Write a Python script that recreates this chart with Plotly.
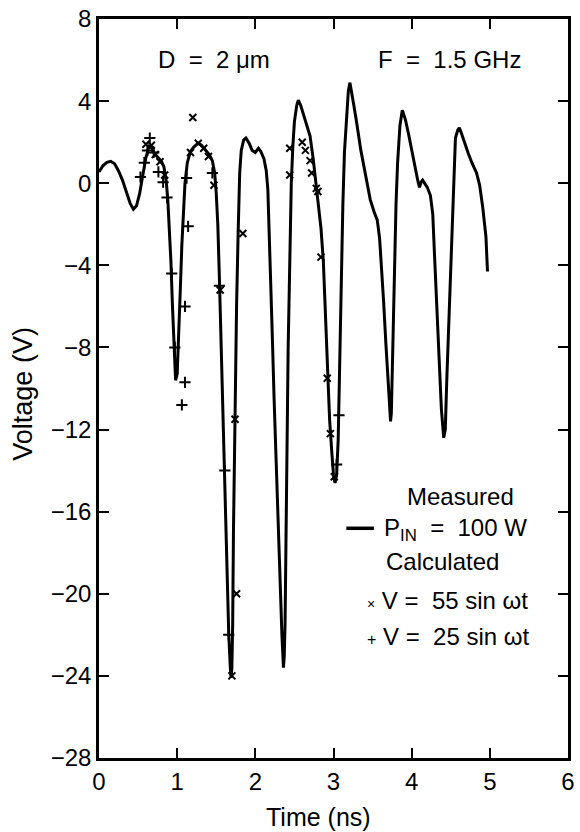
import plotly.graph_objects as go

# Measured waveform, P_IN = 100 W  (time in ns, voltage in V)
meas_t = [0.00, 0.05, 0.10, 0.15, 0.20, 0.25, 0.30, 0.35, 0.40, 0.44, 0.48, 0.52,
          0.56, 0.60, 0.64, 0.67, 0.71, 0.76, 0.80, 0.83, 0.86, 0.88,
          0.90, 0.92, 0.94, 0.96, 0.98, 1.00, 1.02, 1.04, 1.06, 1.08, 1.10,
          1.13, 1.17, 1.22, 1.27, 1.31, 1.36, 1.41, 1.45, 1.48, 1.50, 1.52,
          1.54, 1.56, 1.58, 1.60, 1.62, 1.64, 1.66, 1.68, 1.69, 1.70, 1.71,
          1.72, 1.73, 1.74, 1.76, 1.78, 1.80, 1.82, 1.85, 1.88, 1.92, 1.96,
          2.00, 2.04, 2.07, 2.11, 2.14, 2.16, 2.18, 2.20, 2.22, 2.24, 2.26,
          2.28, 2.30, 2.32, 2.34, 2.36, 2.37, 2.38, 2.39, 2.40, 2.42, 2.44,
          2.46, 2.48, 2.50, 2.53, 2.55, 2.58, 2.61, 2.65, 2.70, 2.74, 2.78,
          2.81, 2.84, 2.87, 2.89, 2.92, 2.95, 2.98, 3.00, 3.02, 3.04, 3.06,
          3.08, 3.10, 3.12, 3.14, 3.17, 3.19, 3.21, 3.23, 3.26, 3.29, 3.32,
          3.35, 3.39, 3.43, 3.47, 3.52, 3.56, 3.59, 3.61, 3.64, 3.67, 3.70,
          3.72, 3.73, 3.74, 3.76, 3.78, 3.80, 3.82, 3.85, 3.88, 3.92, 3.96,
          4.00, 4.04, 4.08, 4.10, 4.12, 4.14, 4.17, 4.20, 4.24, 4.27, 4.29,
          4.32, 4.35, 4.38, 4.41, 4.43, 4.45, 4.48, 4.51, 4.54, 4.56, 4.59,
          4.61, 4.64, 4.68, 4.72, 4.77, 4.83, 4.87, 4.91, 4.95, 4.97]
meas_v = [0.55, 0.85, 1.02, 1.07, 0.95, 0.60, 0.15, -0.45, -1.00, -1.27, -1.10, -0.50,
          0.40, 1.25, 1.80, 1.75, 1.45, 1.20, 1.05, 0.80, 0.10, -0.80,
          -2.2, -3.8, -6.0, -8.2, -9.6, -9.3, -7.6, -5.2, -3.0, -1.2, 0.0,
          1.00, 1.55, 1.80, 1.95, 1.85, 1.60, 1.40, 1.10, 0.50, -0.50, -2.0,
          -4.6, -7.5, -10.8, -13.5, -16.5, -19.5, -22.0, -23.6, -24.1, -23.6, -21.5,
          -17.0, -13.5, -10.5, -6.0, -2.4, 0.5, 1.6, 2.1, 2.2, 1.95, 1.6,
          1.5, 1.7, 1.55, 1.2, 0.6, -0.3, -2.5, -5.0, -7.8, -10.5, -13.0,
          -15.5, -17.8, -19.8, -22.0, -23.6, -23.0, -21.5, -18.0, -13.0, -8.0, -4.0,
          0.0, 1.8, 3.0, 3.8, 4.05, 3.8, 3.4, 2.9, 2.3, 1.2, -0.2,
          -1.2, -2.2, -3.8, -5.7, -9.0, -11.5, -13.2, -14.2, -14.6, -14.2, -12.5,
          -8.5, -4.5, -1.0, 1.5, 3.5, 4.5, 4.9, 4.5, 3.8, 3.1, 2.3,
          1.6, 0.8, 0.0, -0.8, -1.4, -1.8, -2.7, -3.8, -5.7, -7.8, -9.8,
          -11.2, -11.6, -11.2, -7.5, -4.0, -1.0, 1.0, 2.8, 3.56, 3.1, 2.4,
          1.6, 0.8, 0.1, -0.2, 0.05, 0.15, 0.0, -0.2, -0.6, -1.5, -3.3,
          -6.0, -8.8, -11.0, -12.4, -12.0, -9.5, -6.0, -2.9, 0.5, 2.2, 2.6,
          2.7, 2.4, 1.9, 1.5, 1.0, 0.5, -0.1, -1.2, -2.6, -4.3]

# Calculated, V = 55 sin wt
calc55_t = [0.60, 0.67, 0.72, 0.78, 0.84, 1.17, 1.20, 1.27, 1.34, 1.40, 1.47, 1.55,
            1.70, 1.74, 1.76, 1.84, 2.44, 2.44, 2.60, 2.64, 2.70, 2.72, 2.78, 2.80,
            2.84, 2.92, 2.96, 3.01]
calc55_v = [1.9, 1.85, 1.4, 1.05, 0.4, 1.5, 3.2, 1.95, 1.7, 1.3, -0.1, -5.2,
            -24.0, -11.5, -20.0, -2.45, 0.4, 1.7, 2.0, 1.6, 1.1, 0.5, -0.25, -0.4,
            -3.6, -9.5, -12.2, -14.3]

# Calculated, V = 25 sin wt
calc25_t = [0.53, 0.58, 0.62, 0.65, 0.70, 0.76, 0.82, 0.87, 0.93, 0.97, 1.06, 1.10,
            1.10, 1.14, 1.12, 1.45, 1.54, 1.61, 1.66, 3.04, 3.07]
calc25_v = [0.3, 1.0, 1.6, 2.2, 1.5, 0.55, 0.05, -0.7, -4.4, -8.0, -10.8, -9.7,
            -6.0, -2.1, 0.25, 0.5, -5.0, -14.0, -22.0, -13.7, -11.3]

x_ticks = [0, 1, 2, 3, 4, 5, 6]
y_ticks = [8, 4, 0, -4, -8, -12, -16, -20, -24, -28]

FONT = "Liberation Sans, Arial, Helvetica, sans-serif"
NB = "\u00a0"

fig = go.Figure()
fig.add_trace(go.Scatter(
    x=meas_t, y=meas_v, mode="lines",
    line=dict(color="black", width=3),
    showlegend=False, name="Measured",
))
fig.add_trace(go.Scatter(
    x=calc55_t, y=calc55_v, mode="markers",
    marker=dict(symbol="x-thin-open", size=7, color="black",
                line=dict(color="black", width=2)),
    showlegend=False, name="V = 55 sin ωt",
))
fig.add_trace(go.Scatter(
    x=calc25_t, y=calc25_v, mode="markers",
    marker=dict(symbol="cross-thin-open", size=8, color="black",
                line=dict(color="black", width=2)),
    showlegend=False, name="V = 25 sin ωt",
))

axis_common = dict(
    showline=True, linewidth=2.5, linecolor="black", mirror="ticks",
    ticks="inside", ticklen=10, tickwidth=2, tickcolor="black",
    showgrid=False, zeroline=False,
    tickfont=dict(family=FONT, size=24, color="black"),
)

fig.update_layout(
    width=580, height=832,
    margin=dict(l=99, r=5, t=18, b=74),
    paper_bgcolor="white", plot_bgcolor="white",
    font=dict(family=FONT, color="black"),
    xaxis=dict(range=[0, 6], tickvals=x_ticks, **axis_common),
    yaxis=dict(range=[-28, 8], tickvals=y_ticks, **axis_common),
)

txt = dict(family=FONT, size=24, color="black")
annotations = [
    # axis titles
    dict(text="Time (ns)", xref="paper", yref="paper", x=0.4685, y=-0.08,
         xanchor="center", yanchor="middle", showarrow=False,
         font=dict(family=FONT, size=25, color="black")),
    dict(text="Voltage (V)", xref="paper", yref="paper", x=-0.162, y=0.493,
         xanchor="center", yanchor="middle", textangle=-90, showarrow=False,
         font=dict(family=FONT, size=27, color="black")),
    # conditions
    dict(text=f"D{NB}{NB}={NB}{NB}2{NB}μm", x=1.475, y=6.05, xref="x", yref="y",
         xanchor="center", yanchor="middle", showarrow=False, font=txt),
    dict(text=f"F{NB}{NB}={NB}{NB}1.5{NB}GHz", x=4.48, y=6.05, xref="x", yref="y",
         xanchor="center", yanchor="middle", showarrow=False, font=txt),
    # key
    dict(text="Measured", x=4.626, y=-15.25, xref="x", yref="y",
         xanchor="center", yanchor="middle", showarrow=False, font=txt),
    dict(text=f"P<sub>IN</sub>{NB}{NB}={NB}{NB}100{NB}W", x=3.618, y=-16.86, xref="x", yref="y",
         xanchor="left", yanchor="middle", showarrow=False, font=txt),
    dict(text="Calculated", x=3.643, y=-18.42, xref="x", yref="y",
         xanchor="left", yanchor="middle", showarrow=False, font=txt),
    dict(text=f"<span style='font-size:14px'>×</span>{NB}V{NB}={NB}{NB}55{NB}sin{NB}ωt",
         x=3.40, y=-20.31, xref="x", yref="y",
         xanchor="left", yanchor="middle", showarrow=False, font=txt),
    dict(text=f"<span style='font-size:16px'>+</span>{NB}V{NB}={NB}{NB}25{NB}sin{NB}ωt",
         x=3.40, y=-22.06, xref="x", yref="y",
         xanchor="left", yanchor="middle", showarrow=False, font=txt),
]
fig.update_layout(annotations=annotations)

# line sample next to the measured entry
fig.add_shape(type="line", xref="x", yref="y", x0=3.164, x1=3.517, y0=-16.81, y1=-16.81,
              line=dict(color="black", width=3.5))

fig.write_html("out.html")
